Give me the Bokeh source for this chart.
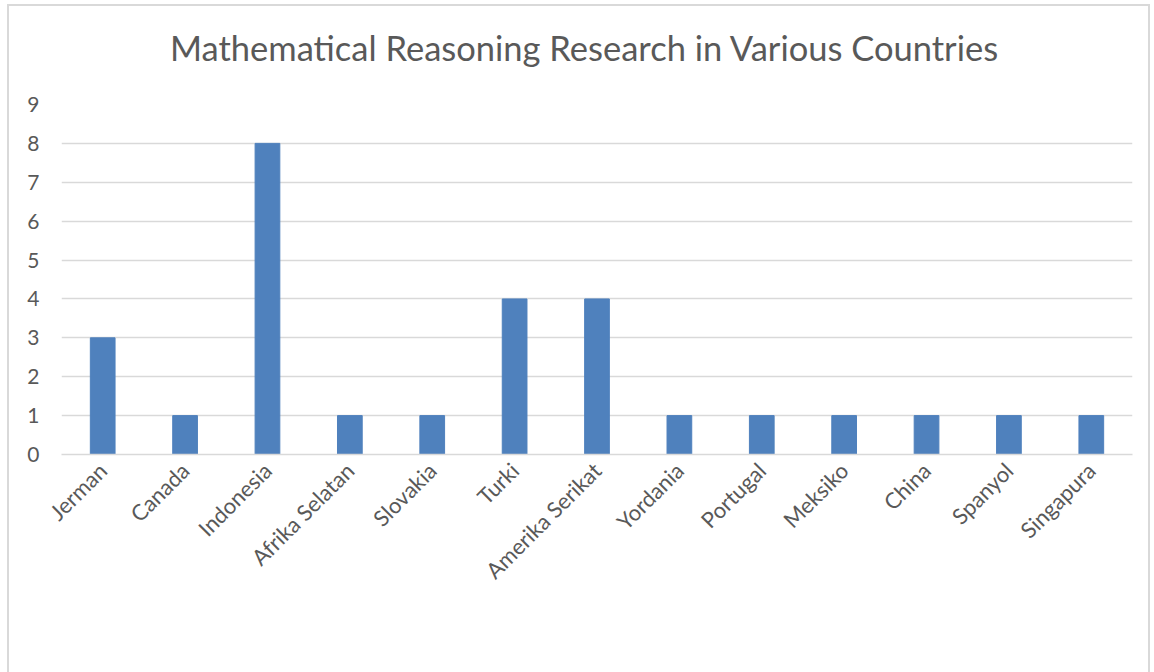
import math
from bokeh.plotting import figure
from bokeh.models import ColumnDataSource, Legend, LegendItem, Div, Spacer
from bokeh.layouts import column
from bokeh.embed import file_html
from bokeh.resources import INLINE

title_text = "Mathematical Reasoning Research in Various Countries"
countries = ["Jerman", "Canada", "Indonesia", "Afrika Selatan", "Slovakia", "Turki",
             "Amerika Serikat", "Yordania", "Portugal", "Meksiko", "China", "Spanyol", "Singapura"]
counts = [3, 1, 8, 1, 1, 4, 4, 1, 1, 1, 1, 1, 1]
y_ticks = [0, 1, 2, 3, 4, 5, 6, 7, 8, 9]

FONT = "Lato"
GREY = "#595959"
BLUE = "#4F81BD"

source = ColumnDataSource(data=dict(country=countries, count=counts))

title_div = Div(text=title_text, width=1139, height=86, margin=0,
                styles={"font-family": FONT, "font-size": "34.5px", "color": GREY,
                        "line-height": "84px", "padding-left": "161px",
                        "white-space": "nowrap"})

p = figure(x_range=countries, y_range=(0, 9), width=1139, height=556,
           frame_width=1071, frame_height=350,
           output_backend="svg", toolbar_location=None,
           min_border_left=52, min_border_right=16, min_border_top=12,
           min_border_bottom=0)

r = p.vbar(x="country", top="count", width=0.3, source=source,
           fill_color=BLUE, line_color=BLUE)

p.outline_line_color = None
p.xgrid.grid_line_color = None
p.ygrid.grid_line_color = "#d9d9d9"
p.ygrid.grid_line_width = 1.5
p.yaxis.ticker = y_ticks

p.yaxis.axis_line_color = None
p.yaxis.major_tick_line_color = None
p.yaxis.minor_tick_line_color = None
p.yaxis.major_label_text_font = FONT
p.yaxis.major_label_text_font_size = "21px"
p.yaxis.major_label_text_color = GREY
p.yaxis.major_label_standoff = 16

p.xaxis.axis_line_color = "#d9d9d9"
p.xaxis.axis_line_width = 1.5
p.xaxis.major_tick_line_color = None
p.xaxis.minor_tick_line_color = None
p.xaxis.major_label_orientation = math.pi / 4
p.xaxis.major_label_text_font = FONT
p.xaxis.major_label_text_font_size = "22px"
p.xaxis.major_label_text_color = GREY
p.xaxis.major_label_standoff = 6

legend = Legend(items=[LegendItem(label="Country", renderers=[r])],
                location="center", orientation="horizontal",
                label_text_font=FONT, label_text_font_size="21px",
                label_text_color=GREY, glyph_width=13, glyph_height=13,
                border_line_color=None, background_fill_alpha=0,
                margin=0, padding=0, label_standoff=5)
p.add_layout(legend, "below")

layout = column(title_div, p, Spacer(width=1139, height=40),
                spacing=0,
                styles={"border": "2px solid #d9d9d9", "margin-left": "7px",
                        "margin-top": "4px", "background-color": "white"})

open("out.html", "w").write(file_html(layout, INLINE))
